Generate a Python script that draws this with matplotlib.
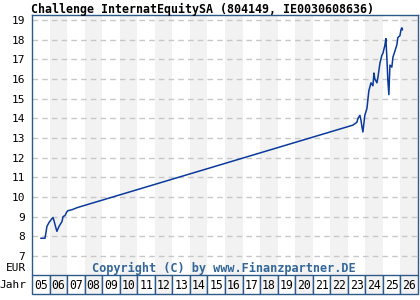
import matplotlib
matplotlib.use("Agg")
import matplotlib.pyplot as plt
from matplotlib.patches import Rectangle

# Kursdaten (Jahr als Dezimalzahl, Kurs in EUR)
jahre = [2005.51, 2005.74, 2005.80, 2005.85, 2005.97, 2006.14, 2006.20, 2006.25,
         2006.37, 2006.42, 2006.54, 2006.71, 2006.77, 2006.88, 2006.99, 2007.05,
         2007.28, 2007.56, 2007.74, 2023.29, 2023.52, 2023.58, 2023.69, 2023.75,
         2023.80, 2023.86, 2023.97, 2024.09, 2024.15, 2024.20, 2024.32, 2024.43,
         2024.49, 2024.54, 2024.66, 2024.72, 2024.83, 2024.94, 2025.00, 2025.11,
         2025.17, 2025.23, 2025.28, 2025.34, 2025.40, 2025.51, 2025.57, 2025.68,
         2025.80, 2025.85, 2025.97, 2026.03, 2026.08, 2026.11]
kurse = [7.9, 7.9, 8.2, 8.5, 8.7, 8.9, 8.95, 8.8,
         8.4, 8.25, 8.5, 8.75, 9.0, 9.05, 9.25, 9.3,
         9.35, 9.45, 9.5, 13.65, 13.8, 14.0, 14.15, 13.9,
         13.6, 13.3, 14.15, 14.5, 15.0, 15.4, 15.8, 15.65,
         16.3, 16.0, 15.8, 16.1, 16.8, 17.2, 17.3, 17.7,
         18.05, 17.0, 15.95, 15.2, 16.7, 16.6, 17.1, 17.4,
         17.75, 18.1, 18.2, 18.5, 18.6, 18.5]

jahr_labels = ['05', '06', '07', '08', '09', '10', '11', '12', '13', '14', '15',
               '16', '17', '18', '19', '20', '21', '22', '23', '24', '25', '26']
y_ticks = [7, 8, 9, 10, 11, 12, 13, 14, 15, 16, 17, 18, 19]

rand = '#2e5a8a'
mono = 'DejaVu Sans Mono'

fig = plt.figure(figsize=(4.2, 3.0), dpi=100)
fig.patch.set_facecolor('white')

ax = fig.add_axes([32/420, 1-275/300, 386/420, 260/300])
ax.set_xlim(2005, 2027)
ax.set_ylim(6.03, 19.25)

# graue Jahresstreifen
for i in range(len(jahr_labels)):
    if i % 2 == 1:
        ax.axvspan(2005 + i, 2006 + i, color='#f2f2f2', lw=0, zorder=0)

for v in y_ticks:
    ax.axhline(v, color='#c8c8c8', lw=1, ls=(0, (4, 3)), zorder=1)

ax.plot(jahre, kurse, color='#0a3a9c', lw=1.1, zorder=3)

ax.set_xticks([])
ax.set_yticks(y_ticks)
ax.set_yticklabels([str(v) for v in y_ticks], family=mono, fontsize=8)
ax.tick_params(axis='y', length=0, pad=5)
for s in ax.spines.values():
    s.set_color(rand)
    s.set_linewidth(1)
ax.spines['bottom'].set_visible(False)

ax.text(0.497, 0.027, 'Copyright (C) by www.Finanzpartner.DE', transform=ax.transAxes,
        ha='center', va='center', family=mono, fontweight='bold', fontsize=8.6,
        color='#336699')
fig.text(26/420, 1-268/300, 'EUR', ha='right', va='center', family=mono, fontsize=8)
fig.text(26/420, 1-285/300, 'Jahr', ha='right', va='center', family=mono, fontsize=8)

fig.text(31/420, 1-9/300, 'Challenge InternatEquitySA (804149, IE0030608636)',
         ha='left', va='center', family=mono, fontweight='bold', fontsize=8.4)

# Jahresleiste
ax2 = fig.add_axes([32/420, 1-294/300, 386/420, 19/300])
ax2.set_xlim(2005, 2027)
ax2.set_ylim(0, 1)
ax2.axis('off')
for i, lab in enumerate(jahr_labels):
    fc = '#f2f2f2' if i % 2 == 1 else 'white'
    ax2.add_patch(Rectangle((2005 + i, 0), 1, 1, facecolor=fc, edgecolor=rand, lw=1,
                            clip_on=False))
    ax2.text(2005.5 + i, 0.45, lab, ha='center', va='center', family=mono, fontsize=8.3)

fig.savefig('out.png', dpi=100)
